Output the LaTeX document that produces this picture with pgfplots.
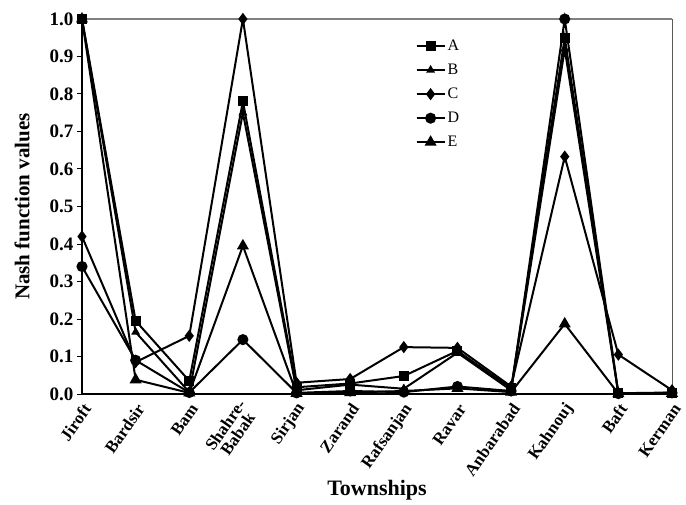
\documentclass[border=0pt]{standalone}
\usepackage{pgfplots}
\pgfplotsset{compat=1.18}
\usepackage{fontspec}
\setmainfont{Liberation Serif}

% one row per township, x = 0..11
\pgfplotstableread{
x  A      B      C      D      E
0  1.000  1.000  0.420  0.340  1.000
1  0.195  0.165  0.085  0.090  0.038
2  0.035  0.005  0.155  0.004  0.003
3  0.780  0.750  1.000  0.145  0.395
4  0.018  0.010  0.030  0.003  0.002
5  0.028  0.025  0.040  0.008  0.004
6  0.048  0.014  0.125  0.005  0.008
7  0.115  0.110  0.123  0.020  0.015
8  0.015  0.010  0.020  0.008  0.005
9  0.950  0.920  0.633  1.000  0.187
10 0.002  0.001  0.105  0.001  0.001
11 0.004  0.003  0.010  0.003  0.002
}\nash

\begin{document}
\begin{tikzpicture}
\path[use as bounding box] (0,0) rectangle (686pt,504pt);
\begin{axis}[
  at={(82pt,110pt)}, anchor=south west,
  scale only axis, width=590pt, height=375pt,
  xmin=0, xmax=11, ymin=0, ymax=1,
  axis line style={draw=none},
  xtick={0,...,11}, xtick pos=bottom, ytick pos=left,
  xticklabels={Jiroft,Bardsir,Bam,{Shahre-\\Babak},Sirjan,Zarand,Rafsanjan,Ravar,Anbarabad,Kahnouj,Baft,Kerman},
  xtick style={draw=none},
  xticklabel style={font=\fontsize{17}{15}\selectfont\bfseries, shift={(7pt,-4pt)}, rotate=55, anchor=east, align=center},
  ytick={0,0.1,...,1.0},
  yticklabel style={font=\fontsize{19}{21}\selectfont\bfseries, /pgf/number format/.cd, fixed, fixed zerofill, precision=1, assume math mode=true},
  tick align=outside, major tick length=5pt,
  ytick style={black, line width=1pt},
  xlabel={Townships}, ylabel={Nash function values},
  xlabel style={font=\fontsize{22}{24}\selectfont\bfseries, at={(axis description cs:0.5,0)}, anchor=center, yshift=-96pt},
  ylabel style={font=\fontsize{21}{23}\selectfont\bfseries, at={(axis description cs:-0.1017,0.5)}, anchor=center},
  legend style={draw=none, fill=none, at={(0.56,0.955)}, anchor=north west, font=\fontsize{16}{18}\selectfont, row sep=8pt},
  legend cell align=left,
  legend image code/.code={\draw[mark repeat=2, mark phase=2] plot coordinates {(0pt,0pt) (14pt,0pt) (28pt,0pt)};},
  every axis plot/.append style={black, line width=2pt, mark options={solid}},
  clip=false,
]
\draw[gray, line width=1.2pt] (rel axis cs:0,1) -- (rel axis cs:1,1);
\draw[gray!70!black, line width=0.6pt] (rel axis cs:1,1) -- (rel axis cs:1,0);
\draw[black, line width=2pt] (rel axis cs:0,1) -- (rel axis cs:0,0);
\draw[black, line width=1.3pt] (rel axis cs:0,0) -- (rel axis cs:1,0);
\addplot[mark=square*, mark size=4pt] table[x=x, y=A] {\nash};
\addplot[mark=triangle*, mark size=3.2pt] table[x=x, y=B] {\nash};
\addplot[mark=diamond*, mark size=4.5pt] table[x=x, y=C] {\nash};
\addplot[mark=*, mark size=4.5pt] table[x=x, y=D] {\nash};
\addplot[mark=triangle*, mark size=5pt] table[x=x, y=E] {\nash};
\legend{A,B,C,D,E}
\end{axis}
\end{tikzpicture}
\end{document}
